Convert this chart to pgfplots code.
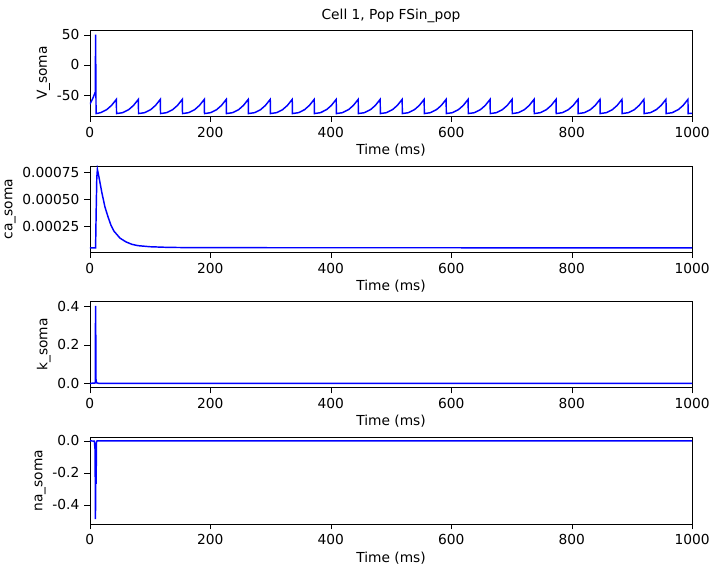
\documentclass[border=0pt]{standalone}
\usepackage{pgfplots}
\pgfplotsset{compat=1.18}
\usepackage{fontspec}
\setmainfont{DejaVu Sans}
\begin{document}
\fontsize{10.4}{12}\selectfont
\begin{tikzpicture}
\path (0pt,0pt) rectangle (540pt,-432pt);
\pgfplotsset{every axis/.style={scale only axis, width=454.5pt, height=65.25pt, xmin=0, xmax=1000,
  xtick={0,200,400,600,800,1000}, xlabel={Time (ms)}, anchor=north west,
  /pgf/number format/assume math mode=true, /pgf/number format/1000 sep={}, tick align=outside, tick style={black},
  xtick pos=bottom, ytick pos=left, tick label style={font=\fontsize{10.4}{12}\selectfont},
  label style={font=\fontsize{10.4}{12}\selectfont},
  xlabel style={yshift=2pt}, ylabel style={yshift=-2pt}}}
\begin{axis}[at={(64.5pt,-22.5pt)}, ymin=-85, ymax=58, ytick={-50,0,50}, ylabel={V\_soma},
  title={Cell 1, Pop FSin\_pop}, title style={font=\fontsize{10.4}{12}\selectfont, yshift=-4pt}]
\addplot[blue, line width=1.1pt] coordinates {
(0,-65)(5,-55)(9,-45)(9.5,50)(10.3,-80.5)(18,-79)(28,-74)(36,-67)(44,-57)(44.3,-80.5)
(54.5,-79)(64.5,-74)(72.5,-67)(80.5,-57)(80.8,-80.5)
(91,-79)(101,-74)(109,-67)(117,-57)(117.3,-80.5)
(127.5,-79)(137.5,-74)(145.5,-67)(153.5,-57)(153.8,-80.5)
(164,-79)(174,-74)(182,-67)(190,-57)(190.3,-80.5)
(200.5,-79)(210.5,-74)(218.5,-67)(226.5,-57)(226.8,-80.5)
(237,-79)(247,-74)(255,-67)(263,-57)(263.3,-80.5)
(273.5,-79)(283.5,-74)(291.5,-67)(299.5,-57)(299.8,-80.5)
(310,-79)(320,-74)(328,-67)(336,-57)(336.3,-80.5)
(346.5,-79)(356.5,-74)(364.5,-67)(372.5,-57)(372.8,-80.5)
(383,-79)(393,-74)(401,-67)(409,-57)(409.3,-80.5)
(419.5,-79)(429.5,-74)(437.5,-67)(445.5,-57)(445.8,-80.5)
(456,-79)(466,-74)(474,-67)(482,-57)(482.3,-80.5)
(492.5,-79)(502.5,-74)(510.5,-67)(518.5,-57)(518.8,-80.5)
(529,-79)(539,-74)(547,-67)(555,-57)(555.3,-80.5)
(565.5,-79)(575.5,-74)(583.5,-67)(591.5,-57)(591.8,-80.5)
(602,-79)(612,-74)(620,-67)(628,-57)(628.3,-80.5)
(638.5,-79)(648.5,-74)(656.5,-67)(664.5,-57)(664.8,-80.5)
(675,-79)(685,-74)(693,-67)(701,-57)(701.3,-80.5)
(711.5,-79)(721.5,-74)(729.5,-67)(737.5,-57)(737.8,-80.5)
(748,-79)(758,-74)(766,-67)(774,-57)(774.3,-80.5)
(784.5,-79)(794.5,-74)(802.5,-67)(810.5,-57)(810.8,-80.5)
(821,-79)(831,-74)(839,-67)(847,-57)(847.3,-80.5)
(857.5,-79)(867.5,-74)(875.5,-67)(883.5,-57)(883.8,-80.5)
(894,-79)(904,-74)(912,-67)(920,-57)(920.3,-80.5)
(930.5,-79)(940.5,-74)(948.5,-67)(956.5,-57)(956.8,-80.5)
(967,-79)(977,-74)(985,-67)(993,-57)(993.3,-80.5)(1000,-80)
};
\end{axis}
\begin{axis}[at={(64.5pt,-125.25pt)}, ymin=0.000007, ymax=0.00081, ytick={0.00025,0.0005,0.00075}, ylabel={ca\_soma},
  yticklabel style={/pgf/number format/.cd, fixed, precision=5, zerofill}, scaled y ticks=false]
\addplot[blue, line width=1.1pt] coordinates {
(0,0.00005)(9.5,0.00005)(10.5,0.0004)(11.5,0.0007)(12.5,0.00078)(15,0.00071)(20,0.00056)(25,0.00043)(30,0.00034)(35,0.00026)(40,0.000205)(50,0.00014)(60,0.000105)(70,0.000082)(80,0.00007)(100,0.00006)(130,0.000054)(180,0.000051)(1000,0.00005)
};
\end{axis}
\begin{axis}[at={(64.5pt,-227.25pt)}, ymin=-0.022, ymax=0.425, ytick={0,0.2,0.4}, ylabel={k\_soma},
  yticklabel style={/pgf/number format/.cd, fixed, precision=1, zerofill}]
\addplot[blue, line width=1.1pt] coordinates {
(0,0)(9,0.002)(9.4,0.4)(9.8,0.25)(10.2,0.02)(11,0.003)(15,0)(1000,0)
};
\end{axis}
\begin{axis}[at={(64.5pt,-330pt)}, ymin=-0.52, ymax=0.022, ytick={-0.4,-0.2,0}, ylabel={na\_soma},
  yticklabel style={/pgf/number format/.cd, fixed, precision=1, zerofill}]
\addplot[blue, line width=1.1pt] coordinates {
(0,0)(7.5,-0.002)(8.5,-0.05)(9,-0.27)(9.3,-0.49)(9.6,-0.3)(10,-0.05)(10.5,-0.27)(10.8,-0.01)(12,0)(1000,0)
};
\end{axis}
\end{tikzpicture}
\end{document}
